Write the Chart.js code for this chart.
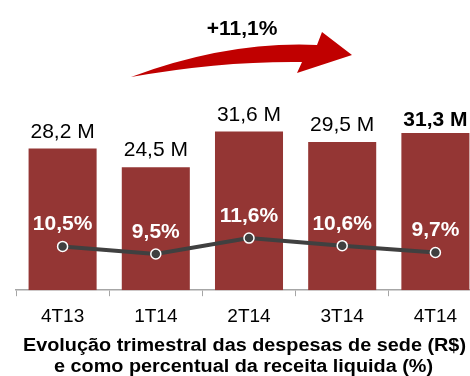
<!DOCTYPE html>
<html>
<head>
<meta charset="utf-8">
<script src="https://cdn.jsdelivr.net/npm/chart.js@4/dist/chart.umd.min.js"></script>
<style>
  html, body { margin: 0; padding: 0; background: #fff; overflow: hidden; }
  #wrap { width: 470px; height: 376px; overflow: hidden; }
  canvas { display: block; }
</style>
</head>
<body>
<div id="wrap"><canvas id="c" width="490" height="376"></canvas></div>
<script>
const trimestres = ["4T13", "1T14", "2T14", "3T14", "4T14"];
const despesas = [28.2, 24.5, 31.6, 29.5, 31.3];       // R$ milhões
const percentual = [10.5, 9.5, 11.6, 10.6, 9.7];      // % da receita líquida
const crescimento = "+11,1%";
const titulo = [
  "Evolução trimestral das despesas de sede (R$)",
  "e como percentual da receita liquida (%)"
];

const FONT = "'Liberation Sans', Arial, sans-serif";
const fmt = (v) => v.toFixed(1).replace(".", ",");

// rótulos, seta e título
const extras = {
  id: "extras",
  afterDatasetsDraw(chart) {
    const ctx = chart.ctx;
    const bars = chart.getDatasetMeta(0).data;
    const pts = chart.getDatasetMeta(1).data;
    ctx.save();
    ctx.textAlign = "center";
    ctx.textBaseline = "alphabetic";

    bars.forEach((b, i) => {
      const last = i === bars.length - 1;
      ctx.font = (last ? "bold " : "") + "21px " + FONT;
      ctx.fillStyle = "#000";
      ctx.fillText(fmt(despesas[i]) + " M", b.x, b.y - (last ? 7 : 11));
    });

    pts.forEach((p, i) => {
      ctx.font = "bold 21px " + FONT;
      ctx.fillStyle = "#fff";
      ctx.fillText(fmt(percentual[i]) + "%", p.x, p.y - 16);
    });

    // seta de crescimento
    ctx.fillStyle = "#c00000";
    ctx.filter = "blur(0.6px)";
    ctx.beginPath();
    ctx.moveTo(131, 77);
    ctx.quadraticCurveTo(228, 41, 317, 45);
    ctx.lineTo(322, 32);
    ctx.lineTo(352, 55);
    ctx.lineTo(297, 73);
    ctx.lineTo(302, 62);
    ctx.quadraticCurveTo(220, 61, 131, 77);
    ctx.closePath();
    ctx.fill();
    ctx.filter = "none";

    ctx.fillStyle = "#000";
    ctx.font = "bold 21px " + FONT;
    ctx.fillText(crescimento, 242, 34.5);

    // título levemente esticado na horizontal
    ctx.font = "bold 17.5px " + FONT;
    const sx = 443 / ctx.measureText(titulo[0]).width;
    [[titulo[0], 244.5, 350.7], [titulo[1], 243.5, 371.7]].forEach(([t, x, y]) => {
      ctx.save();
      ctx.translate(x, y);
      ctx.scale(sx, 1);
      ctx.fillText(t, 0, 0);
      ctx.restore();
    });
    ctx.restore();
  }
};

new Chart(document.getElementById("c"), {
  data: {
    labels: trimestres,
    datasets: [
      {
        type: "bar",
        data: despesas,
        backgroundColor: "#943634",
        barPercentage: 0.73,
        categoryPercentage: 1,
        yAxisID: "y",
        order: 1
      },
      {
        type: "line",
        data: percentual,
        borderColor: "#404040",
        borderWidth: 4,
        pointRadius: 5,
        pointBackgroundColor: "#404040",
        pointBorderColor: "#fff",
        pointBorderWidth: 1.5,
        yAxisID: "y2",
        order: 0
      }
    ]
  },
  options: {
    responsive: false,
    animation: false,
    devicePixelRatio: 1,
    layout: { padding: { left: 16, right: 8, top: 0, bottom: 39 } },
    plugins: { legend: { display: false }, tooltip: { enabled: false } },
    scales: {
      x: {
        grid: { display: true, drawOnChartArea: false, drawTicks: true, tickLength: 6, color: "#a6a6a6", offset: true },
        border: { display: true, color: "#a6a6a6", width: 1.5 },
        ticks: { font: { size: 19, family: FONT }, color: "#000", padding: 9 }
      },
      y: { display: false, min: 0, max: 56.5 },
      y2: { display: false, min: 4.72, max: 42.18 }
    }
  },
  plugins: [extras]
});
</script>
</body>
</html>
